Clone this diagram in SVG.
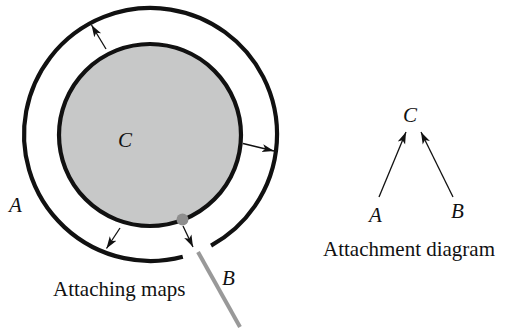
<svg xmlns="http://www.w3.org/2000/svg" width="506" height="334" viewBox="0 0 506 334">
<style>
text{font-family:'Liberation Serif','Times New Roman','DejaVu Serif',serif;font-size:21px;fill:#111}
.lbl{font-style:italic}
.arr{stroke:#111;stroke-width:1.3;fill:none;marker-end:url(#ah)}
</style>
<defs>
<marker id="ah" markerUnits="userSpaceOnUse" markerWidth="14" markerHeight="10" refX="12" refY="4" orient="auto" viewBox="0 0 14 8">
<path d="M0,0 L12,4 L0,8 L3,4 Z" fill="#111"/>
</marker>
</defs>
<rect width="506" height="334" fill="#fff"/>
<g id="outer">
<path d="M211.06 245.57 A126.5 126.5 0 1 0 182.8 256.8" fill="none" stroke="#111" stroke-width="4.2"/>
</g>
<g id="inner">
<circle cx="150" cy="135" r="91" fill="#c7c8c8" stroke="#111" stroke-width="4.2"/>
</g>
<g id="segB">
<line x1="198" y1="252" x2="240" y2="327" stroke="#999" stroke-width="4"/>
</g>
<g id="dot">
<circle cx="182.5" cy="219.5" r="6" fill="#8e8e8e"/>
</g>
<g id="connectors">
<line class="arr" x1="106" y1="49" x2="91.5" y2="25"/>
<line class="arr" x1="243" y1="143.5" x2="274" y2="151"/>
<line class="arr" x1="120" y1="228" x2="106.5" y2="248.5"/>
<line class="arr" x1="183" y1="226" x2="193" y2="247"/>
<line class="arr" x1="379" y1="197" x2="406" y2="132"/>
<line class="arr" x1="453" y1="197" x2="421" y2="132"/>
</g>
<g id="labels">
<text class="lbl" x="118" y="147" font-family="Liberation Serif">C</text>
<text class="lbl" x="9" y="212" font-family="Liberation Serif">A</text>
<text class="lbl" x="222" y="285" font-family="Liberation Serif">B</text>
<text x="53" y="296" font-family="Liberation Serif">Attaching maps</text>
<text class="lbl" x="403" y="122" font-family="Liberation Serif">C</text>
<text class="lbl" x="369" y="222" font-family="Liberation Serif">A</text>
<text class="lbl" x="451" y="218" font-family="Liberation Serif">B</text>
<text x="323" y="256" font-family="Liberation Serif">Attachment diagram</text>
</g>
</svg>
